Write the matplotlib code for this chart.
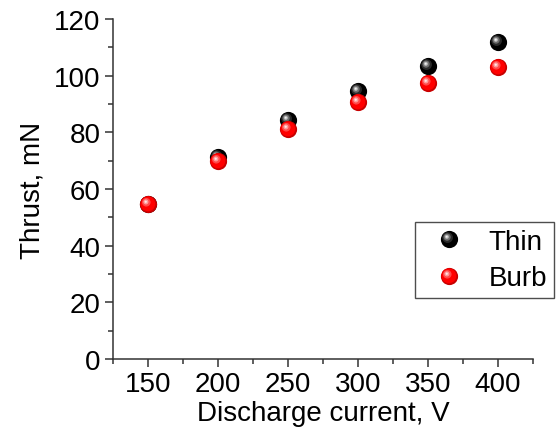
import numpy as np
import matplotlib
matplotlib.use("Agg")
import matplotlib.pyplot as plt
from matplotlib.path import Path
from matplotlib.legend_handler import HandlerTuple
from matplotlib.ticker import MultipleLocator

# === data ===
voltage = [150, 200, 250, 300, 350, 400]
thrust_thin = [54.6, 71.2, 84.5, 94.6, 103.3, 111.8]
thrust_burb = [54.6, 69.8, 81.1, 90.7, 97.3, 103.0]

plt.rcParams['font.family'] = ['Liberation Sans', 'DejaVu Sans']
plt.rcParams['font.size'] = 20


def disc(cx, cy, r):
    """circle path inside a fixed [-1, 1] box so offsets survive marker scaling"""
    c = Path.circle((cx, cy), r)
    verts = np.vstack([[[-1, -1], [1, 1]], c.vertices])
    codes = np.concatenate([[Path.MOVETO, Path.MOVETO], c.codes])
    return Path(verts, codes)


# layered "sphere" markers: (color, radius, offset)
sphere_black = [('#000000', 1.0, 0.0), ('#2a2a2a', 0.62, -0.22),
                ('#6e6e6e', 0.42, -0.28), ('#b8b8b8', 0.24, -0.31),
                ('#f2f2f2', 0.11, -0.32)]
sphere_red = [('#c80000', 1.0, 0.0), ('#ff0000', 0.86, -0.07),
              ('#ff4848', 0.5, -0.26), ('#ff9a9a', 0.3, -0.3),
              ('#ffe6e6', 0.13, -0.32)]

fig = plt.figure(figsize=(5.58, 4.35), dpi=100)
ax = fig.add_axes([113 / 558, 1 - 360 / 435, 420 / 558, 340 / 435])


def plot_sphere(x, y, layers, ms=12.4):
    handles = []
    for col, r, off in layers:
        h, = ax.plot(x, y, ls='none', marker=disc(off, -off, r), ms=ms,
                     mfc=col, mec='none', zorder=3)
        handles.append(h)
    return tuple(handles)


h_thin = plot_sphere(voltage, thrust_thin, sphere_black)
h_burb = plot_sphere(voltage, thrust_burb, sphere_red)

ax.set_xlim(125, 425)
ax.set_ylim(0, 120)
ax.xaxis.set_major_locator(MultipleLocator(50))
ax.xaxis.set_minor_locator(MultipleLocator(25))
ax.yaxis.set_major_locator(MultipleLocator(20))
ax.yaxis.set_minor_locator(MultipleLocator(10))
ax.set_xticks([150, 200, 250, 300, 350, 400])

for s in ['top', 'right']:
    ax.spines[s].set_visible(False)
for s in ['left', 'bottom']:
    ax.spines[s].set_color('#333333')
    ax.spines[s].set_linewidth(1.1)
ax.tick_params(which='major', direction='out', length=6, width=1.1, color='#333333', pad=3)
ax.tick_params(which='minor', direction='out', length=3.5, width=1.1, color='#333333')

ax.set_xlabel('Discharge current, V', labelpad=2)
ax.set_ylabel('Thrust, mN', labelpad=6)

leg = ax.legend([h_thin, h_burb], ['Thin', 'Burb'],
                handler_map={tuple: HandlerTuple(ndivide=1, pad=0)},
                loc='upper left', bbox_to_anchor=(415 / 558, 1 - 223 / 435),
                bbox_transform=fig.transFigure, borderaxespad=0,
                frameon=True, fancybox=False, edgecolor='#222222',
                handlelength=1.95, handletextpad=0.45, borderpad=0.25,
                labelspacing=0.38, fontsize=20)
leg.get_frame().set_linewidth(1.0)
leg.set_clip_on(False)

fig.savefig('out.png', dpi=100)
